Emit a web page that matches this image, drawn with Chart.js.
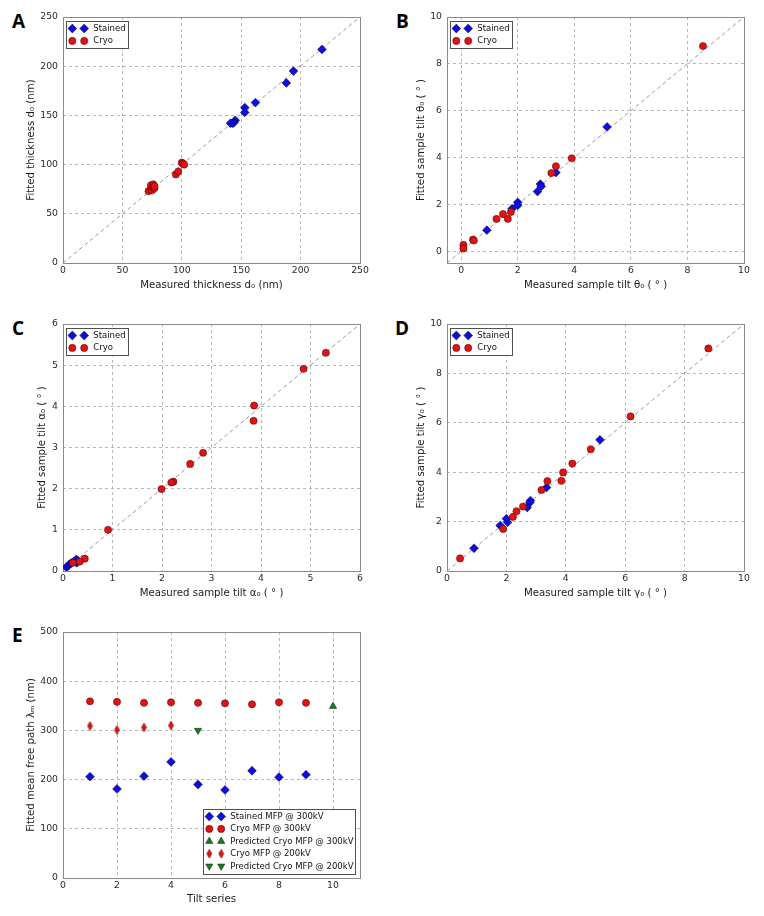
<!DOCTYPE html>
<html><head><meta charset="utf-8">
<script src="https://cdn.jsdelivr.net/npm/chart.js@4.4.0/dist/chart.umd.min.js"></script>
<style>
html,body{margin:0;padding:0;background:#fff}
body{width:764px;height:916px;position:relative;overflow:hidden}
canvas{position:absolute}
.lbl{position:absolute;font-family:'Open Sans',sans-serif;font-weight:700;font-size:19px;line-height:19px;color:#000}
</style></head><body>
<div class="lbl" style="left:12px;top:12px">A</div>
<div class="lbl" style="left:396px;top:12px">B</div>
<div class="lbl" style="left:12px;top:319px">C</div>
<div class="lbl" style="left:395px;top:319px">D</div>
<div class="lbl" style="left:12px;top:626px">E</div>
<canvas id="cA"></canvas>
<canvas id="cB"></canvas>
<canvas id="cC"></canvas>
<canvas id="cD"></canvas>
<canvas id="cE"></canvas>
<script>
// ---------------- DATA ----------------
// Panel A: thickness (nm)
const stainedA_x = [218, 194, 188, 162, 153, 153, 145, 144, 143, 141];
const stainedA_y = [217, 195, 183, 163, 158, 153, 145, 143, 142, 142];
const cryoA_x = [72, 74, 74, 75, 76, 76, 77, 77, 95, 97, 100, 101, 102];
const cryoA_y = [73, 75, 79, 74, 80, 77, 76, 78, 90, 93, 102, 101, 100];
const ticksA = [0, 50, 100, 150, 200, 250];

// Panel B: theta0 (deg)
const stainedB_x = [5.16, 3.35, 2.80, 2.83, 2.70, 2.00, 2.00, 1.80, 0.91];
const stainedB_y = [5.31, 3.36, 2.87, 2.77, 2.55, 2.09, 1.96, 1.82, 0.90];
const cryoB_x = [8.55, 3.91, 3.35, 3.19, 1.76, 1.65, 1.48, 1.25, 0.42, 0.45, 0.08, 0.08];
const cryoB_y = [8.76, 3.97, 3.63, 3.34, 1.68, 1.38, 1.59, 1.38, 0.50, 0.46, 0.27, 0.12];
const ticksB = [0, 2, 4, 6, 8, 10];

// Panel C: alpha0 (deg)
const stainedC_x = [0.07, 0.10, 0.12, 0.15, 0.18, 0.22, 0.27, 0.28, 0.30];
const stainedC_y = [0.09, 0.12, 0.15, 0.18, 0.20, 0.23, 0.28, 0.20, 0.25];
const cryoC_x = [5.31, 4.86, 3.86, 3.85, 2.83, 2.57, 2.23, 2.19, 1.99, 0.91, 0.44, 0.34, 0.20];
const cryoC_y = [5.30, 4.91, 4.02, 3.65, 2.87, 2.60, 2.17, 2.15, 1.99, 1.00, 0.30, 0.23, 0.20];
const ticksC = [0, 1, 2, 3, 4, 5, 6];

// Panel D: gamma0 (deg)
const stainedD_x = [5.15, 3.35, 2.81, 2.79, 2.70, 2.00, 2.04, 1.79, 0.91];
const stainedD_y = [5.31, 3.38, 2.85, 2.77, 2.57, 2.12, 1.97, 1.84, 0.92];
const cryoD_x = [8.80, 6.18, 4.84, 4.22, 3.91, 3.85, 3.38, 3.18, 2.56, 2.34, 2.22, 1.89, 0.44];
const cryoD_y = [9.01, 6.26, 4.93, 4.35, 3.99, 3.65, 3.64, 3.28, 2.61, 2.42, 2.19, 1.70, 0.51];
const ticksD = [0, 2, 4, 6, 8, 10];

// Panel E: mean free path (nm) per tilt series
const seriesE = [1, 2, 3, 4, 5, 6, 7, 8, 9];
const stainedMFP300 = [206, 181, 207, 236, 190, 179, 218, 205, 210];
const cryoMFP300 = [359, 358, 356, 357, 356, 355, 353, 357, 356];
const predSeries300 = [10];
const predCryo300 = [349];
const series200 = [1, 2, 3, 4];
const cryoMFP200 = [309, 301, 306, 310];
const predSeries200 = [5];
const predCryo200 = [300];
const ticksEx = [0, 2, 4, 6, 8, 10];
const ticksEy = [0, 100, 200, 300, 400, 500];

// ---------------- STYLE ----------------
const FONT = 'DejaVu Sans';
const BLUE = '#0d0de0', RED = '#e01212', GREEN = '#1f7a1f';
const TICK_SIZE = 9.3, TITLE_SIZE = 10.2, LEG_SIZE = 8.5;

function thinDiamond(color) {
  const c = document.createElement('canvas');
  c.width = 7; c.height = 11;
  const g = c.getContext('2d');
  g.fillStyle = color; g.strokeStyle = '#500';
  g.lineWidth = 0.5;
  g.beginPath(); g.moveTo(3.5, 1); g.lineTo(6, 5.5); g.lineTo(3.5, 10); g.lineTo(1, 5.5); g.closePath();
  g.fill(); g.stroke();
  return c;
}
const THIN_D = thinDiamond(RED);

const S = {
  stained: {pointStyle: 'rectRot', pointRadius: 4.4, backgroundColor: BLUE, borderColor: '#00004a', borderWidth: 0.5},
  cryo: {pointStyle: 'circle', pointRadius: 3.6, backgroundColor: RED, borderColor: '#4a0000', borderWidth: 0.5},
  triUp: {pointStyle: 'triangle', pointRadius: 4.2, backgroundColor: GREEN, borderColor: '#002000', borderWidth: 0.5},
  triDown: {pointStyle: 'triangle', pointRadius: 4.2, rotation: 180, backgroundColor: GREEN, borderColor: '#002000', borderWidth: 0.5},
  thin: {pointStyle: THIN_D, pointRadius: 4, backgroundColor: RED, borderColor: RED, borderWidth: 0}
};

function pts(xs, ys) { return xs.map((x, i) => ({x: x, y: ys[i]})); }
function ds(xs, ys, st) {
  return {data: pts(xs, ys), pointStyle: st.pointStyle, pointRadius: st.pointRadius,
    pointRotation: st.rotation || 0, pointHoverRadius: st.pointRadius,
    pointBackgroundColor: st.backgroundColor, pointBorderColor: st.borderColor,
    pointBorderWidth: st.borderWidth, showLine: false};
}
function diag(a, b) {
  return {data: [{x: a, y: a}, {x: b, y: b}], showLine: true, pointRadius: 0, borderColor: '#9a9a9a',
    borderWidth: 1, borderDash: [4, 3], fill: false};
}

function drawMarker(ctx, st, x, y) {
  ctx.save();
  if (st.pointStyle instanceof HTMLCanvasElement) {
    ctx.drawImage(st.pointStyle, x - st.pointStyle.width / 2, y - st.pointStyle.height / 2);
    ctx.restore(); return;
  }
  const r = st.pointRadius;
  ctx.fillStyle = st.backgroundColor; ctx.strokeStyle = st.borderColor; ctx.lineWidth = st.borderWidth;
  ctx.beginPath();
  if (st.pointStyle === 'circle') ctx.arc(x, y, r, 0, Math.PI * 2);
  else if (st.pointStyle === 'rectRot') { ctx.moveTo(x, y - r); ctx.lineTo(x + r, y); ctx.lineTo(x, y + r); ctx.lineTo(x - r, y); ctx.closePath(); }
  else if (st.pointStyle === 'triangle') {
    const s = st.rotation ? -1 : 1;
    ctx.moveTo(x, y - s * r); ctx.lineTo(x + r * 0.866, y + s * r * 0.5); ctx.lineTo(x - r * 0.866, y + s * r * 0.5); ctx.closePath();
  }
  ctx.fill(); if (st.borderWidth) ctx.stroke();
  ctx.restore();
}

const framePlugin = {
  id: 'frame',
  beforeDatasetsDraw(chart) {
    const a = chart.chartArea, ctx = chart.ctx;
    ctx.save(); ctx.strokeStyle = '#8a8a8a'; ctx.lineWidth = 1;
    ctx.strokeRect(Math.round(a.left) + 0.5, Math.round(a.top) + 0.5, Math.round(a.right - a.left), Math.round(a.bottom - a.top));
    ctx.restore();
  }
};

function legendPlugin(items, corner, w, h) {
  return {
    id: 'leg',
    afterDraw(chart) {
      const a = chart.chartArea, ctx = chart.ctx;
      let bx, by;
      if (corner === 'tl') { bx = a.left + 3; by = a.top + 4; }
      else { bx = a.right - 5 - w; by = a.bottom - 4 - h; }
      ctx.save();
      ctx.fillStyle = '#fff'; ctx.fillRect(bx, by, w, h);
      ctx.strokeStyle = '#505050'; ctx.lineWidth = 1;
      ctx.strokeRect(Math.round(bx) + 0.5, Math.round(by) + 0.5, w, h);
      ctx.font = LEG_SIZE + 'px "' + FONT + '"';
      ctx.fillStyle = '#111'; ctx.textBaseline = 'middle'; ctx.textAlign = 'left';
      items.forEach((it, i) => {
        const y = by + 7.5 + i * 12.4;
        drawMarker(ctx, it.st, bx + 6.3, y);
        drawMarker(ctx, it.st, bx + 18.2, y);
        ctx.fillText(it.label, bx + 27.3, y + 0.3);
      });
      ctx.restore();
    }
  };
}

function panel(id, box, plot, cfg) {
  const cv = document.getElementById(id);
  cv.style.left = box.x + 'px'; cv.style.top = box.y + 'px';
  cv.width = box.w; cv.height = box.h;
  cv.style.width = box.w + 'px'; cv.style.height = box.h + 'px';
  const lh = TITLE_SIZE * 1.2;
  const axisCommon = (ticks) => ({
    type: 'linear',
    afterBuildTicks: s => { s.ticks = ticks.map(v => ({value: v})); },
    grid: {color: '#b8b8b8', lineWidth: 1, drawTicks: false},
    border: {display: false, dash: [3, 3]},
    ticks: {font: {family: FONT, size: TICK_SIZE}, color: '#2a2a2a', maxRotation: 0, autoSkip: false, includeBounds: false}
  });
  const xAx = Object.assign(axisCommon(cfg.xticks), {
    min: cfg.xr[0], max: cfg.xr[1],
    afterFit: s => { s.height = box.y + box.h - plot.b; },
    title: {display: true, text: cfg.xtitle, color: '#1a1a1a', font: {family: FONT, size: TITLE_SIZE},
      padding: {top: 0, bottom: box.y + box.h - cfg.xTitleY - lh / 2}}
  });
  xAx.ticks.padding = 2;
  const yAx = Object.assign(axisCommon(cfg.yticks), {
    min: cfg.yr[0], max: cfg.yr[1],
    afterFit: s => { s.width = plot.l - box.x; },
    title: {display: true, text: cfg.ytitle, color: '#1a1a1a', font: {family: FONT, size: TITLE_SIZE},
      padding: {top: cfg.yTitleX - box.x - lh / 2, bottom: 0}}
  });
  yAx.ticks.padding = 5;
  new Chart(cv, {
    type: 'scatter',
    data: {datasets: cfg.datasets},
    options: {
      responsive: false, animation: false, devicePixelRatio: 1,
      layout: {padding: {left: 0, top: plot.t - box.y, right: box.x + box.w - plot.r, bottom: 0}},
      plugins: {legend: {display: false}, tooltip: {enabled: false}},
      events: [],
      scales: {x: xAx, y: yAx}
    },
    plugins: [framePlugin, cfg.legend]
  });
}

const legSC = [{label: 'Stained', st: S.stained}, {label: 'Cryo', st: S.cryo}];

panel('cA', {x: 0, y: 0, w: 380, h: 300}, {l: 63, t: 17, r: 360, b: 263}, {
  datasets: [ds(cryoA_x, cryoA_y, S.cryo), ds(stainedA_x, stainedA_y, S.stained), diag(0, 250)],
  xr: [0, 250], yr: [0, 250], xticks: ticksA, yticks: ticksA,
  xtitle: 'Measured thickness d₀ (nm)', ytitle: 'Fitted thickness d₀ (nm)',
  xTitleY: 285, yTitleX: 31.7,
  legend: legendPlugin(legSC, 'tl', 62, 27)
});
panel('cB', {x: 380, y: 0, w: 384, h: 300}, {l: 447, t: 17, r: 744, b: 263}, {
  datasets: [ds(cryoB_x, cryoB_y, S.cryo), ds(stainedB_x, stainedB_y, S.stained), diag(-0.5, 10)],
  xr: [-0.5, 10], yr: [-0.5, 10], xticks: ticksB, yticks: ticksB,
  xtitle: 'Measured sample tilt θ₀ ( ° )', ytitle: 'Fitted sample tilt θ₀ ( ° )',
  xTitleY: 285, yTitleX: 421.7,
  legend: legendPlugin(legSC, 'tl', 62, 27)
});
panel('cC', {x: 0, y: 300, w: 380, h: 310}, {l: 63, t: 324, r: 360, b: 571}, {
  datasets: [ds(cryoC_x, cryoC_y, S.cryo), ds(stainedC_x, stainedC_y, S.stained), diag(0, 6)],
  xr: [0, 6], yr: [0, 6], xticks: ticksC, yticks: ticksC,
  xtitle: 'Measured sample tilt α₀ ( ° )', ytitle: 'Fitted sample tilt α₀ ( ° )',
  xTitleY: 593, yTitleX: 42.7,
  legend: legendPlugin(legSC, 'tl', 62, 27)
});
panel('cD', {x: 380, y: 300, w: 384, h: 310}, {l: 447, t: 324, r: 744, b: 571}, {
  datasets: [ds(cryoD_x, cryoD_y, S.cryo), ds(stainedD_x, stainedD_y, S.stained), diag(0, 10)],
  xr: [0, 10], yr: [0, 10], xticks: ticksD, yticks: ticksD,
  xtitle: 'Measured sample tilt γ₀ ( ° )', ytitle: 'Fitted sample tilt γ₀ ( ° )',
  xTitleY: 593, yTitleX: 421.7,
  legend: legendPlugin(legSC, 'tl', 62, 27)
});
panel('cE', {x: 0, y: 610, w: 380, h: 306}, {l: 63, t: 632, r: 360, b: 878}, {
  datasets: [
    ds(predSeries200, predCryo200, S.triDown),
    ds(series200, cryoMFP200, S.thin),
    ds(predSeries300, predCryo300, S.triUp),
    ds(seriesE, cryoMFP300, S.cryo),
    ds(seriesE, stainedMFP300, S.stained)
  ],
  xr: [0, 11], yr: [0, 500], xticks: ticksEx, yticks: ticksEy,
  xtitle: 'Tilt series', ytitle: 'Fitted mean free path λₘ (nm)',
  xTitleY: 899.3, yTitleX: 31.7,
  legend: legendPlugin([
    {label: 'Stained MFP @ 300kV', st: S.stained},
    {label: 'Cryo MFP @ 300kV', st: S.cryo},
    {label: 'Predicted Cryo MFP @ 300kV', st: S.triUp},
    {label: 'Cryo MFP @ 200kV', st: S.thin},
    {label: 'Predicted Cryo MFP @ 200kV', st: S.triDown}
  ], 'br', 152, 65)
});
</script>
</body></html>
